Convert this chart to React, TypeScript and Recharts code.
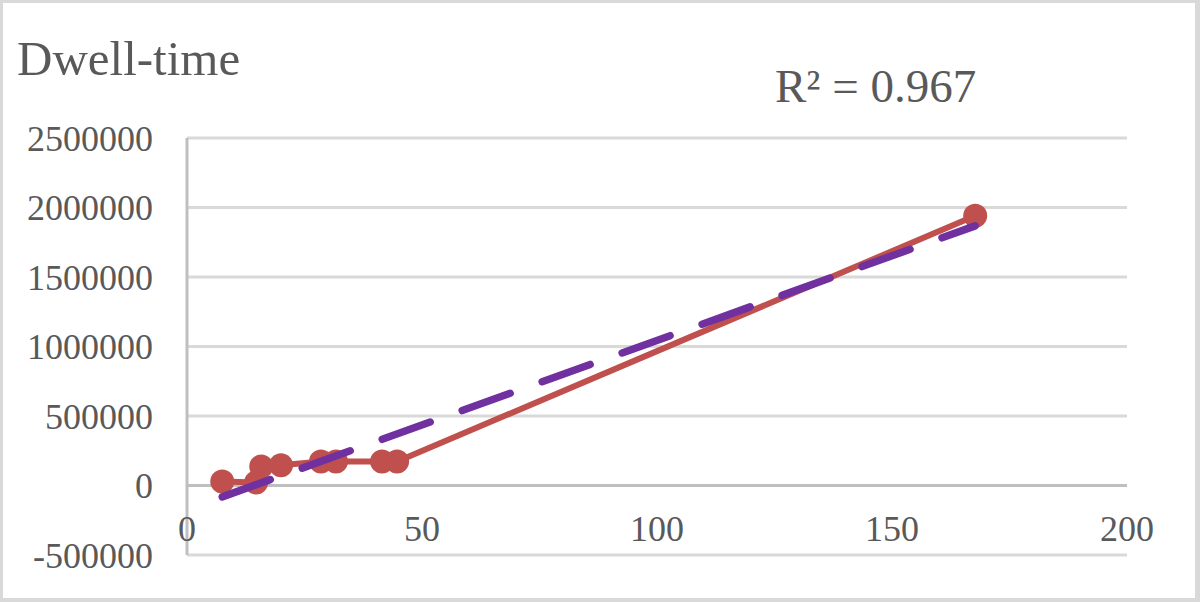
import React from "react";
import {
  ScatterChart,
  Scatter,
  XAxis,
  YAxis,
  CartesianGrid,
  ReferenceLine,
} from "recharts";

// observed points (hours vs dwell-time)
const hours = [7.5, 14.7, 15.8, 20, 28.5, 31.7, 41.5, 44.7, 167.7];
const dwell = [28000, 22000, 136000, 145000, 172000, 172000, 172000, 172000, 1940000];

// linear trend line end points
const trendHours = [7.5, 167.7];
const trendDwell = [-82000, 1868000];

const xTicks = [0, 50, 100, 150, 200];
const yTicks = [-500000, 0, 500000, 1000000, 1500000, 2000000, 2500000];

const points = hours.map((x, i) => ({ x, y: dwell[i] }));
const trend = trendHours.map((x, i) => ({ x, y: trendDwell[i] }));

const FONT = "'Liberation Serif', 'Times New Roman', serif";
const TEXT = "#595959";

const renderXTick = (props: any) => {
  const { x, y, payload } = props;
  return (
    <text
      key={payload.value}
      x={x}
      y={y - 27}
      dy="0.355em"
      textAnchor="middle"
      fill={TEXT}
      fontSize={36}
      fontFamily={FONT}
    >
      {payload.value}
    </text>
  );
};

const Dot = (props: any) => (
  <circle cx={props.cx} cy={props.cy} r={12} fill="#c0504d" />
);

export default function App() {
  return (
    <div
      style={{
        position: "absolute",
        left: 0,
        top: 0,
        width: 1200,
        height: 602,
        background: "#fff",
      }}
    >
      <ScatterChart
        width={1200}
        height={602}
        margin={{ top: 138, right: 73, bottom: 0, left: 0 }}
      >
        <CartesianGrid vertical={false} stroke="#d9d9d9" strokeWidth={3} />
        <XAxis
          type="number"
          dataKey="x"
          domain={[0, 200]}
          ticks={xTicks}
          height={47}
          axisLine={false}
          tickLine={false}
          tickSize={0}
          tickMargin={0}
          interval={0}
          tick={renderXTick}
        />
        <YAxis
          type="number"
          dataKey="y"
          domain={[-500000, 2500000]}
          ticks={yTicks}
          width={187}
          axisLine={{ stroke: "#bfbfbf", strokeWidth: 3 }}
          tickLine={false}
          tickSize={0}
          tickMargin={34}
          interval={0}
          tick={{ fill: TEXT, fontSize: 36, fontFamily: FONT }}
        />
        <ReferenceLine y={0} stroke="#bfbfbf" strokeWidth={3} />
        <Scatter
          data={points}
          fill="#c0504d"
          line={{ stroke: "#c0504d", strokeWidth: 6 }}
          shape={(p: any) => <Dot {...p} />}
          isAnimationActive={false}
        />
        <Scatter
          data={trend}
          fill="#7030a0"
          line={{
            stroke: "#7030a0",
            strokeWidth: 7.5,
            strokeDasharray: "51 34",
            strokeLinecap: "round",
          }}
          shape={() => <g />}
          isAnimationActive={false}
        />
      </ScatterChart>

      <div
        style={{
          position: "absolute",
          left: 17,
          top: 34,
          fontFamily: FONT,
          fontSize: 49,
          lineHeight: 1,
          color: TEXT,
          whiteSpace: "nowrap",
        }}
      >
        Dwell-time
      </div>
      <div
        style={{
          position: "absolute",
          left: 775,
          top: 63,
          fontFamily: FONT,
          fontSize: 47,
          lineHeight: 1,
          color: TEXT,
          whiteSpace: "nowrap",
        }}
      >
        R² = 0.967
      </div>

      {/* outer frame */}
      <div
        style={{
          position: "absolute",
          inset: 0,
          boxSizing: "border-box",
          borderStyle: "solid",
          borderColor: "#d9d9d9",
          borderWidth: "3px 5px 4px 3px",
          pointerEvents: "none",
        }}
      />
    </div>
  );
}
